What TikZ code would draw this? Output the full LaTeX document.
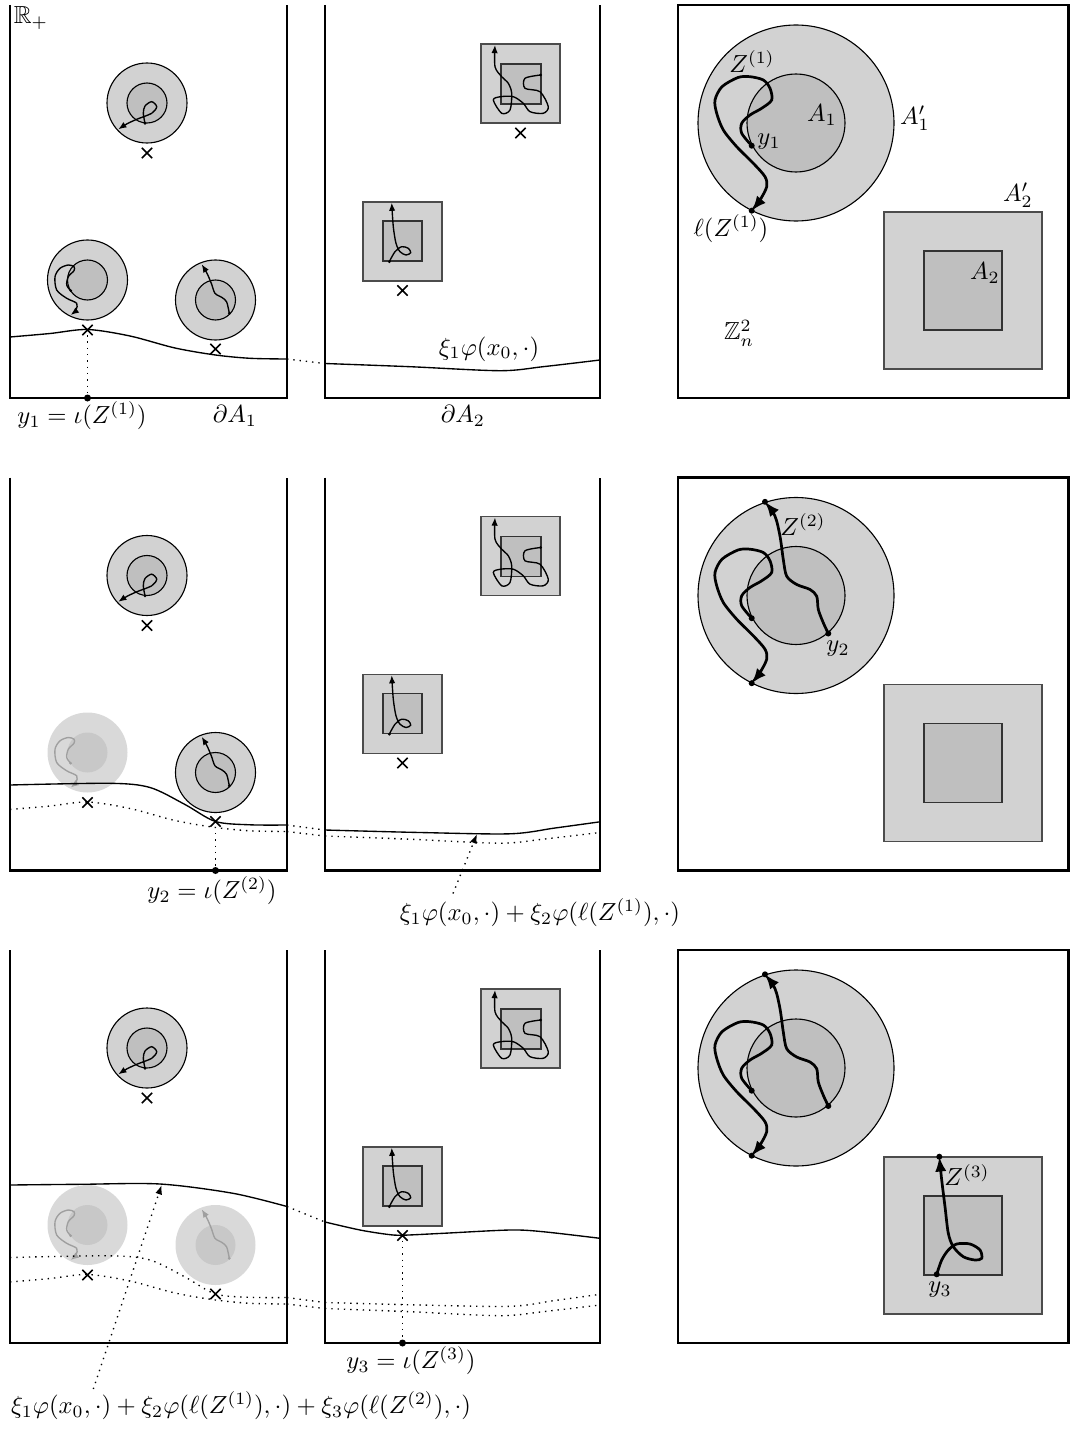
\documentclass[tikz,border=0pt]{standalone}
\usepackage{amssymb}
\usepackage{tikz}
\usetikzlibrary{arrows.meta, shapes.misc}

%% small balls in the half-space panel: #1 outer, #2 inner, #3 walk, #4 dot
\newcommand{\ballA}[4]{%
  \path[#1] (147,103) circle (40);
  \path[#2] (147,103) circle (20);
  \draw[#3] plot[smooth] coordinates {(145,123.3) (143.3,113.3) (145,106) (151.7,101.7) (156.7,106.7) (151.7,113.3) (136.7,119.3) (126.7,124) (118.3,129.3)};
  \fill[#4] (145,123.3) circle (1.5);}
\newcommand{\ballB}[4]{%
  \path[#1] (87.5,280) circle (40);
  \path[#2] (87.5,280) circle (20);
  \draw[#3] plot[smooth] coordinates {(70.7,290.7) (66.7,285) (68.3,276.7) (74,270.7) (74,266.7) (68.3,265) (60,268.3) (55,276.7) (56.7,290) (66.7,298.3) (76.7,303.3) (76,310) (70.7,315)};
  \fill[#4] (70.7,290.7) circle (1.5);}
\newcommand{\ballC}[4]{%
  \path[#1] (215.5,300) circle (40);
  \path[#2] (215.5,300) circle (20);
  \draw[#3] plot[smooth] coordinates {(229.3,313.3) (226.7,302) (222,297.5) (215,293.3) (211.3,283.3) (207,273.3) (201.7,264.3)};
  \fill[#4] (229.3,313.3) circle (1.5);}
%% boxes in the second panel
\newcommand{\boxP}{%
  \draw[boxout] (481,44) rectangle (560,123);
  \draw[boxin] (501,64) rectangle (541,104);
  \draw[walk] plot[smooth] coordinates {(540.7,75) (525,78.3) (525,88.3) (540,91.7) (548.3,106.7) (543.3,113.3) (530,111.7) (523.3,103.3) (513.3,96.7) (500.7,96.7) (493.3,100) (501.7,113.3) (510,110) (511.7,93.3) (508.3,83.3) (501.7,76.7) (495,66.7) (495,45)};
  \fill (540.7,75) circle (1.5);}
\newcommand{\boxQ}{%
  \draw[boxout] (363,202) rectangle (442,281);
  \draw[boxin] (383,221) rectangle (422,261);
  \draw[walk] plot[smooth] coordinates {(389.3,261.7) (395,251.7) (401.7,246.7) (408.3,248.3) (410.7,252.7) (406,255) (400,251.7) (396,243.3) (393.3,226.7) (391.7,202.7)};
  \fill (389.3,261.7) circle (1.5);}
%% boundary curves: #1 inside the panels, #2 between them
\newcommand{\bdryone}[2]{%
  \draw[#1] plot[smooth] coordinates {(10,337) (50,333.5) (87.5,329.5) (130,336) (175,348) (215.5,355) (250,358.3) (287,359)};
  \draw[#2] (287,359) -- (325,363.5);
  \draw[#1] plot[smooth] coordinates {(325,363.5) (410,366.7) (500,370.7) (543,366.7) (600,360)};}
\newcommand{\bdrytwo}[2]{%
  \draw[#1] plot[smooth] coordinates {(10,312.5) (110,310.8) (150,315) (185,332) (215.5,349) (250,352.3) (287,352.5)};
  \draw[#2] (287,352.5) -- (325,357.5);
  \draw[#1] plot[smooth] coordinates {(325,357.5) (420,360) (510,361.3) (555,355.5) (600,349.3)};}
\newcommand{\bdrythree}[2]{%
  \draw[#1] plot[smooth] coordinates {(10,240) (80,239.3) (160,239) (233,248.3) (287,261.5)};
  \draw[#2] (287,261.5) -- (325,277);
  \draw[#1] plot[smooth] coordinates {(325,277) (360,285) (387,289.3) (402.5,290.2) (443,288.3) (510,285) (543,286.7) (600,293.3)};}
%% the torus panel
\newcommand{\torus}{%
  \draw[frame] (678,5) rectangle (1068.5,398);
  \draw[ballout] (796,123) circle (98);
  \draw[ballin] (796,123) circle (49);
  \draw[boxout] (884,212) rectangle (1042,369);
  \draw[boxin] (924,251) rectangle (1002,330);}
\newcommand{\walkone}{%
  \draw[bigwalk] plot[smooth] coordinates {(751.7,145.7) (741.7,133.3) (741.7,123.3) (750,115) (761.7,108.3) (771.7,100) (770,88.3) (763.3,80) (750,76.7) (738,77.5) (722,86.7) (715,100) (716.7,113.3) (723.3,130) (736.7,146.7) (753.3,163.3) (765,176.7) (766.7,186.7) (760,200) (751.7,210.7)};
  \fill (751.7,145.7) circle (3) (751.7,210.7) circle (3);}
\newcommand{\walktwo}{%
  \draw[bigwalk] plot[smooth] coordinates {(828.3,161) (823.3,150.3) (818.3,137) (816.7,123.7) (810,117) (796.7,112) (786.7,103.7) (783.3,87) (780,63.7) (775,43.7) (765,29.3)};
  \fill (828.3,161) circle (3) (765,29.3) circle (3);}
\newcommand{\walkthree}{%
  \draw[bigwalk] plot[smooth] coordinates {(936.7,329.3) (941.7,315) (948.3,305) (956.7,299) (970,299) (980,305) (981.7,313.3) (975,315) (963.3,311.7) (953.3,301.7) (948.3,288.3) (945,261.7) (941.7,235) (939.3,211.7)};
  \fill (936.7,329.3) circle (3) (939.3,211.7) circle (3);}
\newcommand{\panels}{%
  \draw[frame] (10,5) -- (10,398) -- (287,398) -- (287,5);
  \draw[frame] (325,5) -- (325,398) -- (600,398) -- (600,5);}

\begin{document}
\begin{tikzpicture}[
  x=0.405pt, y=-0.405pt,
  every node/.style={font=\normalsize, inner sep=1pt},
  frame/.style    = {line width=0.85pt},
  ballout/.style  = {draw=black, fill=gray!35, line width=0.45pt},
  ballin/.style   = {draw=black, fill=gray!50, line width=0.45pt},
  fadeout/.style  = {fill=gray!30},
  fadein/.style   = {fill=gray!43},
  boxout/.style   = {draw=black!70, fill=gray!35, line width=0.55pt},
  boxin/.style    = {draw=black!80, fill=gray!50, line width=0.55pt},
  walk/.style     = {line width=0.55pt, -{Latex[length=3.3pt, width=2.6pt]}},
  fadewalk/.style = {walk, gray!75},
  bigwalk/.style  = {line width=1.1pt, -{Latex[length=6pt, width=4.6pt]}},
  dotfill/.style  = {black},
  fadedot/.style  = {gray!75},
  crossmk/.style  = {cross out, draw, inner sep=0pt, minimum size=3.6pt, line width=0.6pt},
  bdry/.style     = {line width=0.55pt},
  olddry/.style   = {line width=0.55pt, dotted},
  gap/.style      = {line width=0.55pt, dotted},
  dotarrow/.style = {line width=0.55pt, dotted, -{Latex[length=3.8pt, width=2.8pt]}},
  lbl/.style      = {inner sep=0pt}
]
\useasboundingbox (0,0) rectangle (1070,1432);

%% ROW 1
\panels
\ballA{ballout}{ballin}{walk}{dotfill}
\ballB{ballout}{ballin}{walk}{dotfill}
\ballC{ballout}{ballin}{walk}{dotfill}
\boxP
\boxQ
\node[crossmk] (xa1) at (147,153) {};
\node[crossmk] (xb1) at (87.5,330) {};
\node[crossmk] (xc1) at (215.5,349) {};
\node[crossmk] (xp1) at (520.5,133) {};
\node[crossmk] (xq1) at (402.5,290.5) {};
\bdryone{bdry}{gap}
\fill (87.5,398) circle (3.5) coordinate (y1foot);
\draw[dotted, line width=0.55pt] (xb1) -- (y1foot);
\node[lbl] (rplus) at (31,18) {$\mathbb{R}_+$};
\node[lbl] (y1lbl) at (82,416) {$y_1=\iota(Z^{(1)})$};
\node[lbl] (dA1)   at (235,416) {$\partial A_1$};
\node[lbl] (dA2)   at (463,416) {$\partial A_2$};
\node[lbl] (phi1)  at (489,349) {$\xi_1\varphi(x_0,\cdot)$};
\torus
\walkone
\node[lbl] (Z1)    at (752,62)  {$Z^{(1)}$};
\node[lbl] (A1)    at (822,115) {$A_1$};
\node[lbl] (A1p)   at (915,118) {$A_1'$};
\node[lbl] (y1)    at (769,142) {$y_1$};
\node[lbl] (lZ1)   at (731,229) {$\ell(Z^{(1)})$};
\node[lbl] (A2p)   at (1018,195) {$A_2'$};
\node[lbl] (A2)    at (985,273) {$A_2$};
\node[lbl] (Zn)    at (739,333) {$\mathbb{Z}_n^2$};

%% ROW 2
\begin{scope}[shift={(0,472.5)}]
\panels
\ballA{ballout}{ballin}{walk}{dotfill}
\ballB{fadeout}{fadein}{fadewalk}{fadedot}
\ballC{ballout}{ballin}{walk}{dotfill}
\boxP
\boxQ
\node[crossmk] (xa2) at (147,153) {};
\node[crossmk] (xb2) at (87.5,330) {};
\node[crossmk] (xc2) at (215.5,349) {};
\node[crossmk] (xq2) at (402.5,290.5) {};
\bdryone{olddry}{gap}
\bdrytwo{bdry}{gap}
\fill (215.5,398) circle (3.5) coordinate (y2foot);
\draw[dotted, line width=0.55pt] (xc2) -- (y2foot);
\node[lbl] (y2lbl) at (212,418) {$y_2=\iota(Z^{(2)})$};
\node[lbl] (phi2)  at (540,440) {$\xi_1\varphi(x_0,\cdot)+\xi_2\varphi(\ell(Z^{(1)}),\cdot)$};
\coordinate (tail2) at (453,421);
\coordinate (tip2)  at (477,361.5);
\draw[dotarrow] (tail2) -- (tip2);
\torus
\walkone
\walktwo
\node[lbl] (Z2) at (803,52)  {$Z^{(2)}$};
\node[lbl] (y2) at (838,176) {$y_2$};
\end{scope}

%% ROW 3
\begin{scope}[shift={(0,945)}]
\panels
\ballA{ballout}{ballin}{walk}{dotfill}
\ballB{fadeout}{fadein}{fadewalk}{fadedot}
\ballC{fadeout}{fadein}{fadewalk}{fadedot}
\boxP
\boxQ
\node[crossmk] (xa3) at (147,153) {};
\node[crossmk] (xb3) at (87.5,330) {};
\node[crossmk] (xc3) at (215.5,349) {};
\node[crossmk] (xq3) at (402.5,290.5) {};
\bdryone{olddry}{gap}
\bdrytwo{olddry}{gap}
\bdrythree{bdry}{gap}
\fill (402.5,398) circle (3.5) coordinate (y3foot);
\draw[dotted, line width=0.55pt] (xq3) -- (y3foot);
\node[lbl] (y3lbl) at (411,416) {$y_3=\iota(Z^{(3)})$};
\node[lbl] (phi3)  at (241,461) {$\xi_1\varphi(x_0,\cdot)+\xi_2\varphi(\ell(Z^{(1)}),\cdot)+\xi_3\varphi(\ell(Z^{(2)}),\cdot)$};
\coordinate (tail3) at (93.3,444);
\coordinate (tip3)  at (161.7,240);
\draw[dotarrow] (tail3) -- (tip3);
\torus
\walkone
\walktwo
\walkthree
\node[lbl] (Z3) at (967,230) {$Z^{(3)}$};
\node[lbl] (y3) at (940,345) {$y_3$};
\end{scope}
\end{tikzpicture}
\end{document}
